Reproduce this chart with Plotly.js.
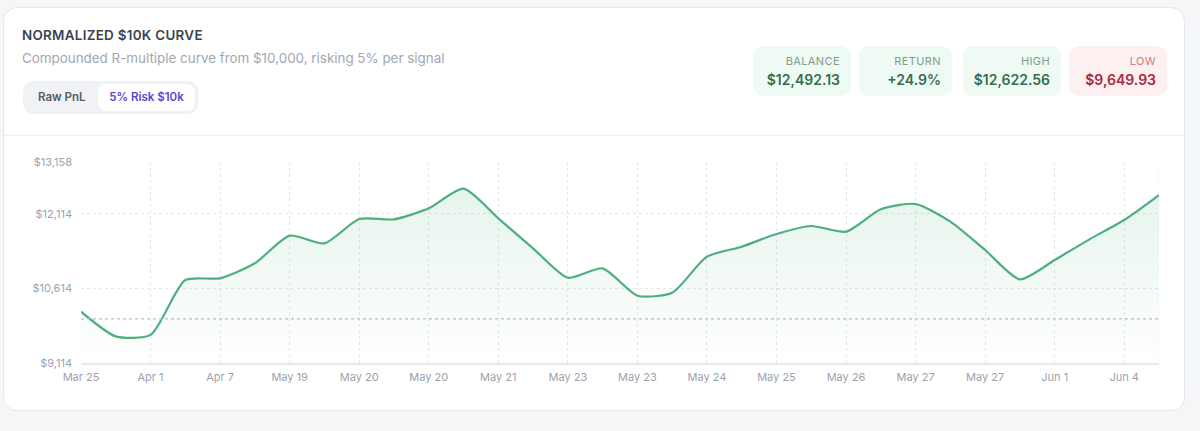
<!DOCTYPE html>
<html>
<head>
<meta charset="utf-8">
<script src="https://cdn.plot.ly/plotly-3.0.1.min.js"></script>
<style>
  html, body { margin:0; padding:0; background:#f5f6f8; width:1200px; height:431px; overflow:hidden; font-family: Inter, "Noto Sans", sans-serif; }
  .card { position:absolute; left:3px; top:7px; width:1180px; height:402px; background:#fff; border:1px solid #e4e7ec; border-radius:14px; }
  .title { position:absolute; left:18px; top:19px; font-size:13.4px; font-weight:600; color:#3b4350; letter-spacing:0.3px; }
  .sub { position:absolute; left:18px; top:42px; font-size:13.4px; color:#a1a7b1; }
  .toggle { position:absolute; left:19px; top:73px; width:175px; height:33px; background:#f0f2f5; border-radius:10px; }
  .toggle .raw { position:absolute; left:15px; top:9px; font-size:11.5px; font-weight:600; color:#545c69; }
  .toggle .sel { position:absolute; left:75px; top:3px; width:97px; height:27px; background:#fff; border-radius:8px; font-size:11.5px; font-weight:600; color:#5b45d2; text-align:center; line-height:27px; }
  .divider { position:absolute; left:0; right:0; top:127px; height:1px; background:#eef0f3; }
  .stat { position:absolute; top:38px; height:50px; border-radius:10px; background:#effaf4; text-align:right; box-sizing:border-box; padding-right:11px; }
  .stat .lab { font-size:11px; color:#7f9c8b; margin-top:8px; letter-spacing:0.4px; }
  .stat .val { font-size:14px; font-weight:600; color:#336e4f; margin-top:3px; }
  .stat.low { background:#fdf0f1; }
  .stat.low .lab { color:#c77f88; }
  .stat.low .val { color:#a8283f; }
  #plot { position:absolute; left:0; top:136px; width:1180px; height:260px; }
</style>
</head>
<body>
<div class="card">
  <div class="title">NORMALIZED $10K CURVE</div>
  <div class="sub">Compounded R-multiple curve from $10,000, risking 5% per signal</div>
  <div class="toggle"><span class="raw">Raw PnL</span><div class="sel">5% Risk $10k</div></div>
  <div class="stat" style="left:749px;width:98px;"><div class="lab">BALANCE</div><div class="val">$12,492.13</div></div>
  <div class="stat" style="left:855px;width:93px;"><div class="lab">RETURN</div><div class="val">+24.9%</div></div>
  <div class="stat" style="left:959px;width:98px;"><div class="lab">HIGH</div><div class="val">$12,622.56</div></div>
  <div class="stat low" style="left:1065px;width:98px;"><div class="lab">LOW</div><div class="val">$9,649.93</div></div>
  <div class="divider"></div>
  <div id="plot"></div>
</div>
<script>
// Data
const tickLabels = ["Mar 25","Apr 1","Apr 7","May 19","May 20","May 20","May 21","May 23",
                    "May 23","May 24","May 25","May 26","May 27","May 27","Jun 1","Jun 4"];
const balances = [10146, 9650, 9680, 10784, 10818, 11120, 11676, 11522,
                  12011, 12005, 12226, 12622.56, 12025, 11421, 10830, 11019,
                  10468, 10528, 11253, 11454, 11709, 11870, 11756, 12206,
                  12313, 11957, 11387, 10797, 11186, 11602, 11991, 12492.13];
const startBalance = 10000;
const yMin = 9114;
const yMax = 13158;
const yTicks = [9114, 10614, 12114, 13158];

const xs = balances.map((_, i) => i);
const tickvals = tickLabels.map((_, i) => i * 2);
const lastX = xs[xs.length - 1];

const base = {
  x: xs, y: xs.map(() => yMin), mode: 'lines', line: {width: 0, color: 'rgba(0,0,0,0)'},
  hoverinfo: 'skip', showlegend: false
};
const curve = {
  x: xs, y: balances, mode: 'lines', fill: 'tonexty',
  line: {color: '#4caf7e', width: 2.2, shape: 'spline', smoothing: 0.65},
  fillcolor: 'rgba(76,175,126,0.10)',
  fillgradient: {type: 'vertical', start: yMax, stop: yMin,
    colorscale: [[0, 'rgba(76,175,126,0.16)'], [1, 'rgba(76,175,126,0.0)']]},
  showlegend: false
};

const gridColor = '#e3e6eb';
const layout = {
  margin: {l: 77, r: 25, t: 18, b: 41},
  paper_bgcolor: 'rgba(0,0,0,0)', plot_bgcolor: 'rgba(0,0,0,0)',
  font: {family: 'Inter, "Noto Sans", sans-serif', size: 11, color: '#9ba2ae'},
  xaxis: {
    range: [0, lastX], tickvals: tickvals, ticktext: tickLabels,
    showgrid: true, gridcolor: gridColor, griddash: '3px,3px', gridwidth: 1,
    zeroline: false, showline: true, linecolor: '#e6e8ec', linewidth: 1.5,
    ticks: '', ticklabelstandoff: 3, fixedrange: true
  },
  yaxis: {
    range: [yMin, yMax], tickvals: yTicks, tickformat: '$,.0f',
    showgrid: true, gridcolor: gridColor, griddash: '3px,3px', gridwidth: 1,
    zeroline: false, showline: false, ticks: '', ticklabelstandoff: 8, fixedrange: true
  },
  shapes: [
    {type: 'line', xref: 'x', yref: 'y', x0: 0, x1: lastX, y0: startBalance, y1: startBalance,
     line: {color: '#b9bec8', width: 1.2, dash: '3px,3px'}},
    {type: 'line', xref: 'x', yref: 'y', x0: lastX, x1: lastX, y0: yMin, y1: yMax,
     line: {color: gridColor, width: 1, dash: '3px,3px'}}
  ],
  showlegend: false
};
Plotly.newPlot('plot', [base, curve], layout, {displayModeBar: false, staticPlot: true});
</script>
</body>
</html>
